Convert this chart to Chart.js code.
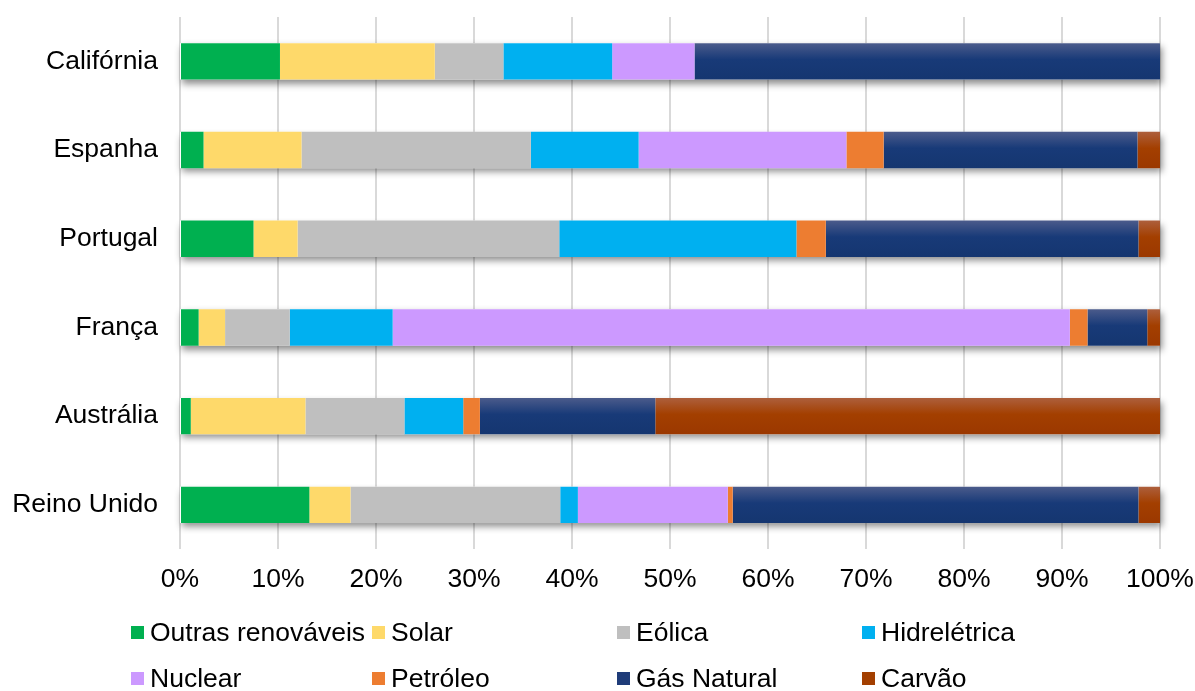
<!DOCTYPE html>
<html>
<head>
<meta charset="utf-8">
<script src="https://cdn.jsdelivr.net/npm/chart.js@4"></script>
<style>
  body { margin: 0; background: #fff; }
  #wrap { position: relative; width: 1195px; height: 691px; }
  #legend { position: absolute; left: 0; top: 0; width: 1195px; height: 691px; pointer-events: none;
    font-family: "Liberation Sans", Arial, sans-serif; font-size: 26.5px; color: #000; }
  .item { position: absolute; display: flex; align-items: center; white-space: nowrap; }
  .box { width: 13px; height: 13px; margin-right: 6px; }
</style>
</head>
<body>
<div id="wrap">
  <canvas id="chart" width="1195" height="691"></canvas>
  <div id="legend"></div>
</div>
<script>
const categories = ['Califórnia', 'Espanha', 'Portugal', 'França', 'Austrália', 'Reino Unido'];
const outras   = [10.2,  2.4,  7.5,  1.9,  1.1, 13.2];
const solar    = [15.8, 10.0,  4.5,  2.7, 11.7,  4.2];
const eolica   = [ 7.0, 23.4, 26.7,  6.6, 10.1, 21.4];
const hidro    = [11.1, 11.0, 24.2, 10.5,  6.0,  1.8];
const nuclear  = [ 8.4, 21.2,  0.0, 69.1,  0.0, 15.3];
const petroleo = [ 0.0,  3.8,  3.0,  1.8,  1.7,  0.5];
const gas      = [47.5, 25.9, 31.9,  6.1, 17.9, 41.4];
const carvao   = [ 0.0,  2.3,  2.2,  1.3, 51.5,  2.2];
const xTicks = [0, 10, 20, 30, 40, 50, 60, 70, 80, 90, 100];

const BAR_PCT = 0.41;
const FONT = { family: 'Liberation Sans', size: 26.5 };

// vertical gradient per bar, for the dark series
function grad(top, mid, bottom) {
  return function(c) {
    const chart = c.chart;
    const y = chart.scales.y;
    if (!y || c.dataIndex === undefined) return mid;
    const cy = y.getPixelForValue(c.dataIndex);
    const h = (y.height / categories.length) * BAR_PCT;
    if (!isFinite(cy) || !isFinite(h) || h <= 0) return mid;
    const g = chart.ctx.createLinearGradient(0, cy - h / 2, 0, cy + h / 2);
    g.addColorStop(0, top);
    g.addColorStop(0.45, mid);
    g.addColorStop(1, bottom);
    return g;
  };
}

const shadowPlugin = {
  id: 'barShadow',
  beforeDatasetsDraw(chart) {
    const ctx = chart.ctx, x = chart.scales.x, y = chart.scales.y;
    const h = (y.height / categories.length) * BAR_PCT;
    ctx.save();
    ctx.shadowColor = 'rgba(0,0,0,0.45)';
    ctx.shadowBlur = 7;
    ctx.shadowOffsetX = 2;
    ctx.shadowOffsetY = 4;
    ctx.fillStyle = '#fff';
    categories.forEach((c, i) => {
      const cy = y.getPixelForValue(i);
      const x0 = x.getPixelForValue(0), x1 = x.getPixelForValue(100);
      ctx.fillRect(x0, cy - h / 2, x1 - x0, h);
    });
    ctx.restore();
  }
};

const ds = (label, data, color, legendColor) => ({
  label, data, backgroundColor: color, legendColor: legendColor || color,
  borderWidth: 0, categoryPercentage: 1, barPercentage: BAR_PCT
});

const chart = new Chart(document.getElementById('chart'), {
  type: 'bar',
  data: {
    labels: categories,
    datasets: [
      ds('Outras renováveis', outras, '#00b050'),
      ds('Solar', solar, '#fed96a'),
      ds('Eólica', eolica, '#bfbfbf'),
      ds('Hidrelétrica', hidro, '#00b0f0'),
      ds('Nuclear', nuclear, '#cc99ff'),
      ds('Petróleo', petroleo, '#ed7d31'),
      ds('Gás Natural', gas, grad('#4b5b8b', '#183a78', '#153670'), '#1f3c79'),
      ds('Carvão', carvao, grad('#ad5f3c', '#a33f00', '#9b3800'), '#a33f00')
    ]
  },
  options: {
    indexAxis: 'y',
    responsive: false,
    animation: false,
    layout: { padding: { top: 17, bottom: 80, left: 0, right: 0 } },
    plugins: { legend: { display: false }, tooltip: { enabled: false } },
    scales: {
      x: {
        stacked: true, min: 0, max: 100,
        afterBuildTicks: s => { s.ticks = xTicks.map(v => ({ value: v })); },
        afterFit: s => { s.paddingLeft = 0; s.paddingRight = 35; },
        ticks: { callback: v => v + '%', color: '#000', padding: 15, font: FONT },
        grid: { color: '#d9d9d9', lineWidth: 2, drawTicks: false },
        border: { display: false }
      },
      y: {
        stacked: true,
        afterFit: s => { s.width = 180; s.paddingTop = 0; s.paddingBottom = 0; },
        ticks: { color: '#000', padding: 22, font: FONT },
        grid: { display: false, drawTicks: false },
        border: { display: false }
      }
    }
  },
  plugins: [shadowPlugin]
});

// legend laid out in fixed columns like the original
const legendCols = [131, 372, 617, 862];
const legendRows = [632, 678];
const legendEl = document.getElementById('legend');
chart.data.datasets.forEach((d, i) => {
  const it = document.createElement('div');
  it.className = 'item';
  it.style.left = legendCols[i % 4] + 'px';
  it.style.top = (legendRows[Math.floor(i / 4)] - 15) + 'px';
  it.style.height = '30px';
  const b = document.createElement('span');
  b.className = 'box';
  b.style.background = d.legendColor;
  it.appendChild(b);
  it.appendChild(document.createTextNode(d.label));
  legendEl.appendChild(it);
});
</script>
</body>
</html>
